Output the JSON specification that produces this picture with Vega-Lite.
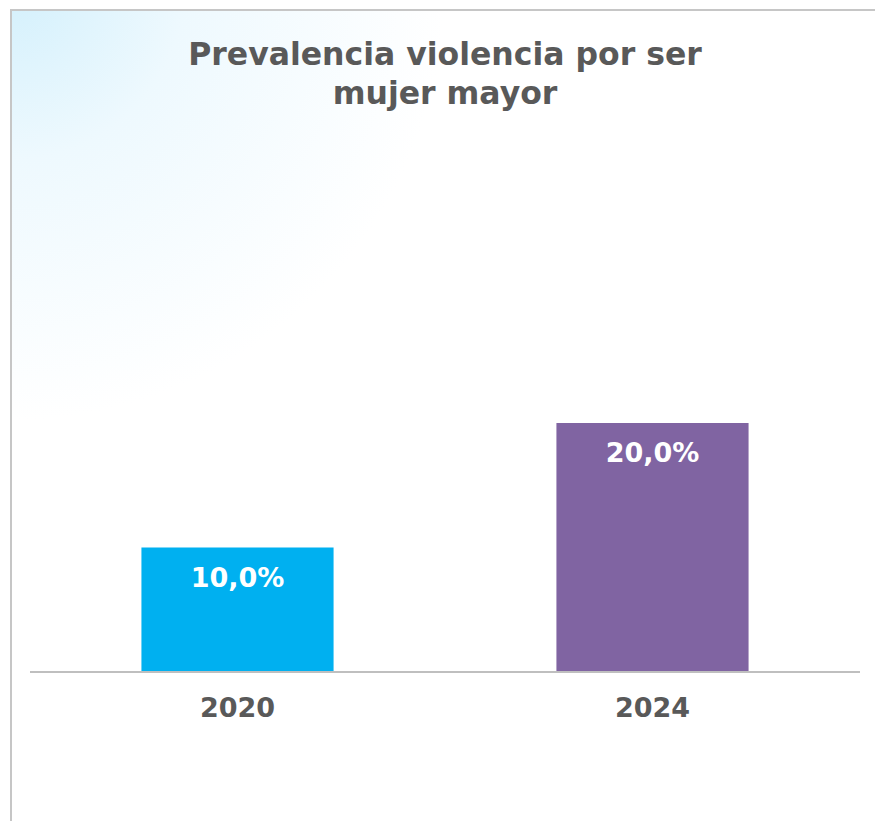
{
  "$schema": "https://vega.github.io/schema/vega-lite/v6.json",
  "autosize": "none",
  "padding": {"left": 11, "top": 10, "right": 0, "bottom": 0},
  "width": 868,
  "height": 821,
  "background": "white",
  "config": {
    "locale": {"number": {"decimal": ",", "thousands": ".", "grouping": [3], "currency": ["", " €"]}},
    "font": "DejaVu Sans"
  },
  "view": {
    "fill": {
      "gradient": "radial",
      "x1": 0, "y1": 0, "r1": 0,
      "x2": 0, "y2": 0, "r2": 0.5,
      "stops": [
        {"offset": 0, "color": "#d3f0fc"},
        {"offset": 0.4, "color": "#eef9fe"},
        {"offset": 1, "color": "#ffffff"}
      ]
    },
    "stroke": "#c6c6c6",
    "strokeWidth": 2
  },
  "title": {
    "text": ["Prevalencia violencia por ser", "mujer mayor"],
    "fontSize": 31.5,
    "fontWeight": "bold",
    "color": "#595959",
    "font": "DejaVu Sans",
    "anchor": "middle",
    "baseline": "alphabetic",
    "lineHeight": 39,
    "offset": -125
  },
  "data": {
    "values": [
      {"year": "2020", "value": 0.10},
      {"year": "2024", "value": 0.20}
    ]
  },
  "encoding": {
    "x": {
      "field": "year",
      "type": "nominal",
      "scale": {"domain": ["2020", "2024"], "paddingInner": 0, "paddingOuter": 0.0458},
      "axis": null
    }
  },
  "layer": [
    {
      "mark": {"type": "bar", "width": {"band": 0.463}},
      "encoding": {
        "y": {
          "field": "value",
          "type": "quantitative",
          "scale": {"domain": [-0.12771, 0.53173], "nice": false, "zero": false},
          "axis": null
        },
        "y2": {"datum": 0},
        "color": {
          "field": "year",
          "type": "nominal",
          "scale": {"domain": ["2020", "2024"], "range": ["#00B0F0", "#8064A2"]},
          "legend": null
        }
      }
    },
    {
      "mark": {"type": "rule", "color": "#bfbfbf", "strokeWidth": 2},
      "encoding": {
        "x": {"datum": "2020", "bandPosition": 0},
        "x2": {"datum": "2024", "bandPosition": 1},
        "y": {"datum": 0, "type": "quantitative"}
      }
    },
    {
      "mark": {"type": "text", "color": "white", "fontSize": 27, "fontWeight": "bold", "baseline": "alphabetic", "dy": 39},
      "encoding": {
        "y": {"field": "value", "type": "quantitative"},
        "text": {"field": "value", "type": "quantitative", "format": ".1%"}
      }
    },
    {
      "mark": {"type": "text", "color": "#595959", "fontSize": 27, "fontWeight": "bold", "baseline": "alphabetic", "dy": 45},
      "encoding": {
        "y": {"datum": 0, "type": "quantitative"},
        "text": {"field": "year", "type": "nominal"}
      }
    }
  ]
}
